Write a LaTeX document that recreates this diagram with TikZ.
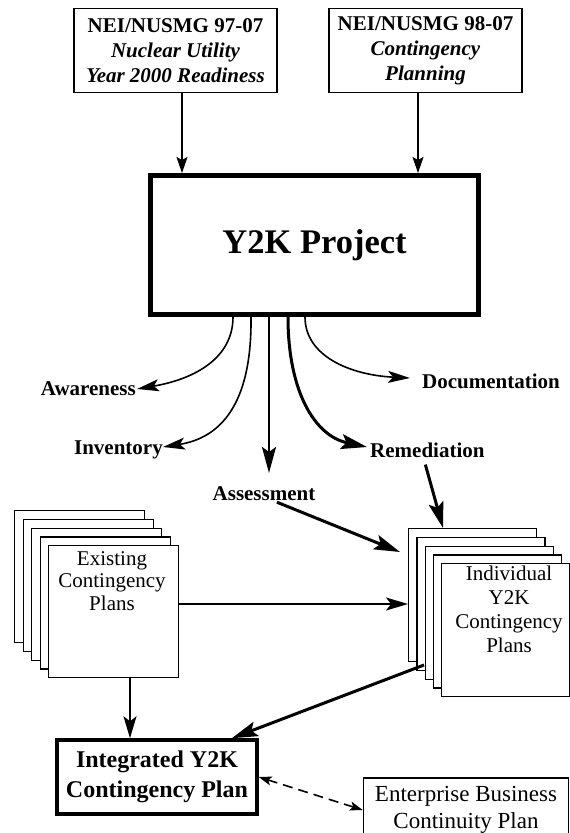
\documentclass[tikz,border=0pt]{standalone}
\usepackage{fontspec}
\setmainfont{Liberation Serif}
\usetikzlibrary{arrows.meta,calc}
\begin{document}
\begin{tikzpicture}[x=1pt,y=-1pt,
  topbox/.style={draw,line width=1.4pt,minimum width=203pt,minimum height=84pt,align=center,inner sep=0pt,
    font=\fontsize{21}{25}\selectfont\bfseries},
  lab/.style={font=\fontsize{21}{25}\selectfont\bfseries,inner sep=1pt},
  frame/.style={draw,fill=white,line width=1.4pt,inner sep=0pt},
  thinarr/.style={line width=1.4pt,-{Stealth[length=16pt,width=11pt,inset=3pt]}},
  curvearr/.style={line width=1.6pt,-{Stealth[length=22pt,width=12pt,inset=5pt]}},
  bigarr/.style={line width=3pt,-{Stealth[length=26pt,width=15pt,inset=5pt]}},
  midarr/.style={line width=1.6pt,-{Stealth[length=22pt,width=13pt,inset=5pt]}},
  dasharr/.style={line width=1.6pt,dash pattern=on 10pt off 6pt,
    {Stealth[length=13pt,width=9pt,inset=3pt]}-{Stealth[length=13pt,width=9pt,inset=3pt]}}
]
\useasboundingbox (0,0) rectangle (570,833);
\fill[white] (0,0) rectangle (570,833);
\clip (0,0) rectangle (570,833);

% top boxes
\node[topbox] (nei1) at (175.5,50.5) {NEI/NUSMG 97-07\\\textit{Nuclear Utility}\\\textit{Year 2000 Readiness}};
\node[topbox,minimum width=193pt] (nei2) at (425.5,50.5) {NEI/NUSMG 98-07\\\textit{Contingency}\\\textit{Planning}};

% project box
\node[draw,line width=5pt,minimum width=328pt,minimum height=139pt,
  font=\fontsize{34.5}{40}\selectfont\bfseries] (y2k) at (314.5,245) {Y2K Project};

\coordinate (c1) at (182,0);
\coordinate (c2) at (418,0);
\draw[thinarr] (nei1.south -| c1) -- (y2k.north -| c1);
\draw[thinarr] (nei2.south -| c2) -- (y2k.north -| c2);

% phase labels
\node[lab,anchor=east] (aw) at (137,389) {Awareness};
\node[lab,anchor=east] (inv) at (164,450) {Inventory};
\node[lab] (ass) at (264,494) {Assessment};
\node[lab,anchor=west] (rem) at (369,450) {Remediation};
\node[lab,anchor=west] (doc) at (421,381) {Documentation};

\coordinate (s1) at (233,0);
\coordinate (s2) at (251,0);
\coordinate (s3) at (269,473);
\coordinate (s4) at (288,0);
\coordinate (s5) at (305,0);
\coordinate (doctip) at (410,378);
\coordinate (invtip) at (163,447);
\coordinate (remtip) at (367,447);

\draw[curvearr] (y2k.south -| s1) .. controls (233,358) and (195,379) .. (aw.east);
\draw[curvearr] (y2k.south -| s2) .. controls (252,405) and (220,438) .. (invtip);
\draw[line width=2.5pt,-{Stealth[length=26pt,width=14pt,inset=5pt]}] (y2k.south -| s3) -- (s3);
\draw[line width=3pt,-{Stealth[length=26pt,width=15pt,inset=5pt]}] (y2k.south -| s4) .. controls (288,392) and (315,436) .. (remtip);
\draw[curvearr] (y2k.south -| s5) .. controls (305,356) and (350,375) .. (doctip);

% stacked plans (existing)
\foreach \i in {4,3,2,1,0}
  \node[frame,minimum width=130pt,minimum height=132pt,anchor=north west] (ex\i) at ({48-8.5*\i},{545-8.75*\i}) {};
\node[anchor=north,inner sep=0pt,align=center,font=\fontsize{21}{22.5}\selectfont] (ext) at (112,551)
  {Existing\\Contingency\\Plans};

% stacked plans (individual)
\foreach \i in {4,3,2,1,0}
  \node[frame,minimum width=128pt,minimum height=133pt,anchor=north west] (in\i) at ({441-8.25*\i},{563-8.75*\i}) {};
\node[anchor=north,inner sep=0pt,align=center,font=\fontsize{21}{24}\selectfont] (intx) at (509,566)
  {Individual\\Y2K\\Contingency\\Plans};

% bottom boxes
\node[draw,line width=3.5pt,minimum width=200pt,minimum height=74pt,align=center,inner sep=0pt,
  font=\fontsize{24}{30}\selectfont\bfseries] (integ) at (157,777) {Integrated Y2K\\Contingency Plan};
\node[draw,line width=1.5pt,minimum width=205pt,minimum height=64pt,align=center,inner sep=0pt,
  font=\fontsize{23}{27}\selectfont] (ent) at (466,810) {Enterprise Business\\Continuity Plan};

% connectors
\coordinate (c604) at (0,604);
\coordinate (c130) at (130,0);
\coordinate (as2) at (400,552);
\coordinate (i2s) at (424,665);
\draw[midarr] (ex0.east |- c604) -- (in4.west |- c604);
\draw[midarr] (ex0.south -| c130) -- (integ.north -| c130);
\draw[bigarr] ([xshift=13pt]ass.south) -- (as2);
\draw[bigarr] ([shift={(-2pt,-6pt)}]rem.south) -- ([xshift=35pt]in4.north west);
\draw[bigarr] (i2s) -- ([xshift=-27pt]integ.north east);
\draw[dasharr] (integ.east) -- (ent.west);
\end{tikzpicture}
\end{document}
